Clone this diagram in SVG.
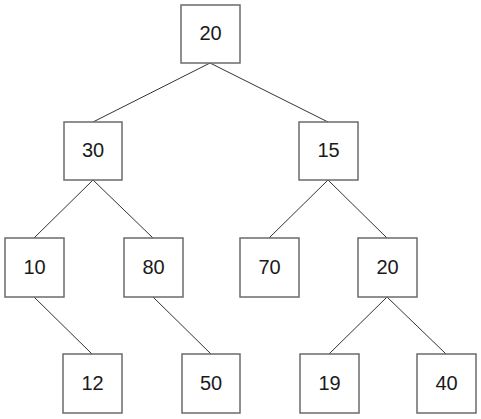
<svg xmlns="http://www.w3.org/2000/svg" width="481" height="419" viewBox="0 0 481 419">
<style>
.n rect{fill:#fff;stroke:#6b6b6b;stroke-width:1.5}
.n text{font-family:"Liberation Sans",Arial,sans-serif;font-size:20px;fill:#1a1a1a;text-anchor:middle;dominant-baseline:central}
.c line{stroke:#333;stroke-width:1}
</style>
<rect width="481" height="419" fill="#fff"/>
<g class="c">
<line x1="210" y1="63" x2="93" y2="122"/>
<line x1="210" y1="63" x2="328" y2="122"/>
<line x1="93" y1="180" x2="34" y2="238"/>
<line x1="93" y1="180" x2="153" y2="238"/>
<line x1="328" y1="180" x2="269" y2="238"/>
<line x1="328" y1="180" x2="387" y2="238"/>
<line x1="34" y1="297" x2="92" y2="354"/>
<line x1="153" y1="297" x2="211" y2="354"/>
<line x1="387" y1="297" x2="329" y2="354"/>
<line x1="387" y1="297" x2="446" y2="354"/>
</g>
<g id="n20a" class="n"><rect x="181" y="5" width="59" height="58"/><text x="210.5" y="33">20</text></g>
<g id="n30" class="n"><rect x="64" y="122" width="58" height="58"/><text x="93" y="150">30</text></g>
<g id="n15" class="n"><rect x="299" y="122" width="59" height="58"/><text x="328.5" y="150">15</text></g>
<g id="n10" class="n"><rect x="5" y="238" width="59" height="59"/><text x="34.5" y="266.5">10</text></g>
<g id="n80" class="n"><rect x="124" y="238" width="59" height="59"/><text x="153.5" y="266.5">80</text></g>
<g id="n70" class="n"><rect x="240" y="238" width="59" height="59"/><text x="269.5" y="266.5">70</text></g>
<g id="n20b" class="n"><rect x="358" y="238" width="59" height="59"/><text x="387.5" y="266.5">20</text></g>
<g id="n12" class="n"><rect x="63" y="354" width="59" height="59"/><text x="92.5" y="382.5">12</text></g>
<g id="n50" class="n"><rect x="182" y="354" width="58" height="59"/><text x="211" y="382.5">50</text></g>
<g id="n19" class="n"><rect x="300" y="354" width="59" height="59"/><text x="329.5" y="382.5">19</text></g>
<g id="n40" class="n"><rect x="417" y="354" width="59" height="59"/><text x="446.5" y="382.5">40</text></g>
</svg>
